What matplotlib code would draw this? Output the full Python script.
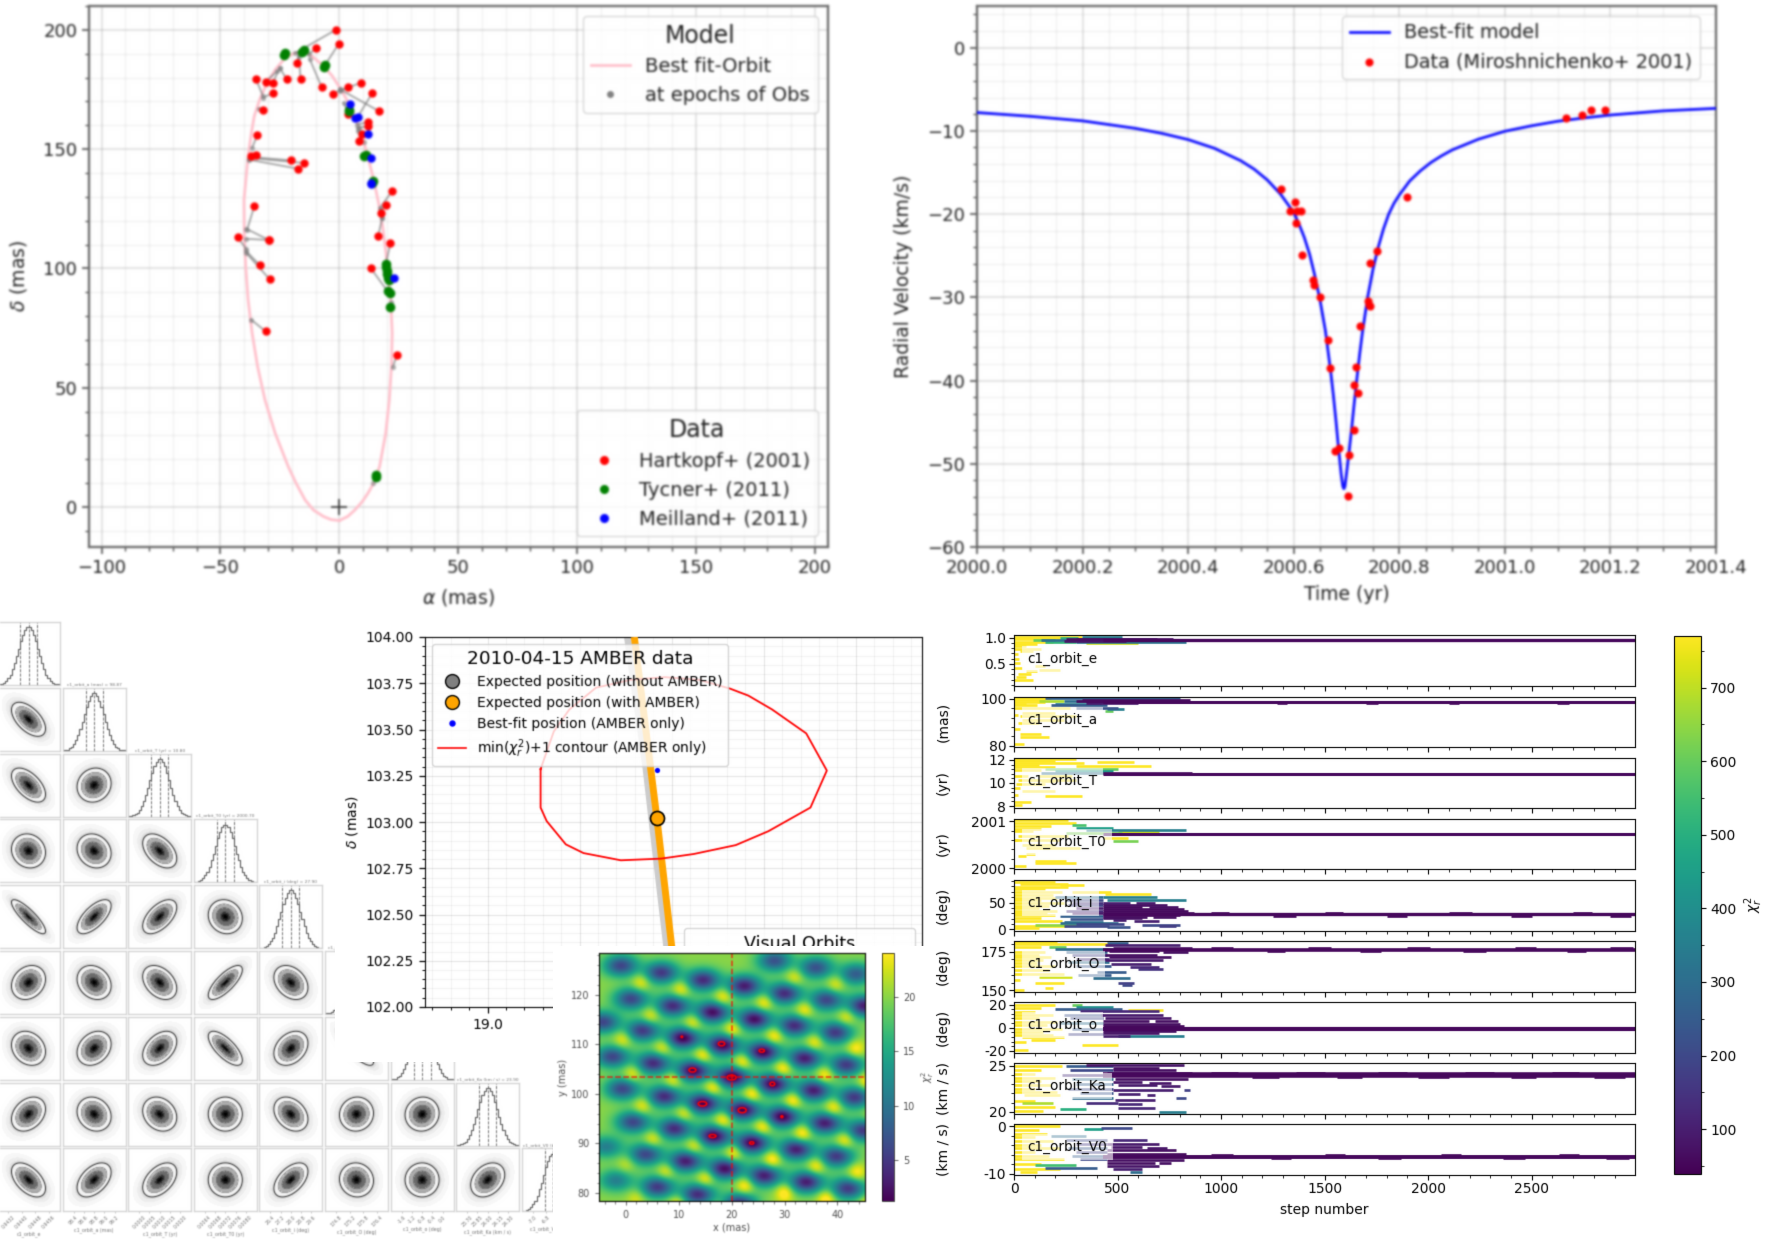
import numpy as np
import matplotlib
matplotlib.use("Agg")
import matplotlib.pyplot as plt
from matplotlib.lines import Line2D
from matplotlib.patches import Rectangle, Ellipse
from matplotlib.ticker import MultipleLocator, AutoMinorLocator, FormatStrFormatter
from matplotlib.cm import ScalarMappable
from matplotlib.colors import Normalize

W, H = 1767, 1242

# ---- projected orbit -------------------------------------------------------
ORBIT_RA = [0, -3.5, -6.7, -10.9, -14.4, -18.2, -21.5, -27, -31.3, -34.4, -36.7, -38.4, -39.4, -40, -40.1,
            -38.8, -38, -37, -35.8, -33.5, -30.4, -26.9, -23.4, -19.5, -15.7, -11.5, -7.3, -3.1, 1.1, 4.6,
            7.4, 10, 12.3, 14.4, 16.5, 18.2, 19.6, 20.6, 21.6, 22.2, 21.9, 21, 19.5, 16.9, 14.4, 12, 9.6,
            6.5, 3.5, 0]
ORBIT_DEC = [-5.7, -5.3, -4, -1.3, 2.9, 9.9, 16.9, 30.9, 44.9, 58.9, 72.9, 86.9, 100.8, 114.8, 128.8,
             142.8, 149.8, 156.8, 163.8, 170.8, 177.8, 183.4, 187.5, 190, 191, 189, 185.4, 180.8, 174.3, 168,
             161.7, 154, 145.6, 137.2, 127.4, 117.6, 106.4, 95.2, 86.9, 72.9, 58.9, 44.9, 30.9, 16.9, 9.9,
             5.7, 2.2, -1.3, -4, -5.7]

HARTKOPF_RA = [-1.5, -0.3, -9.7, -18, -16.3, -22.2, -28, -30.9, -35.1, -28, -32.3, -34.5, -37.3, -35.1, -20.5,
               -15, -17.5, -7.4, -2.7, 3.8, 9.1, 13.9, 16.7, 3.8, 11.9, 12.1, 9.5, 8.4, 22.2, 19.6, 17.4,
               16.3, 21.5, 13.2, -35.8, -42.8, -29.7, -29.7, -33.4, -29.3, -31, 24.3]
HARTKOPF_DEC = [200, 194.1, 192.4, 185.9, 179.4, 179.4, 177.8, 178.3, 179.4, 173.6, 166.6, 155.9, 147, 147.7,
                145.3, 144.2, 141.8, 175.9, 172.9, 175.9, 177.8, 173.6, 165.9, 164.9, 161.3, 159.6, 156.5,
                153.6, 132.4, 126.4, 123.1, 113.6, 110.6, 100.1, 126, 113, 111.9, 111.9, 101.3, 95.4, 73.6, 63.8]
HARTKOPF_MODEL_RA = [-18.5, -6.3, -12.9, -17, -17, -25.1, -25.1, -26.2, -32.1, -32.1, -33.9, -36.7, -38.1, -38.1,
                     -37.7, -37.7, -38.1, -12.5, 0.4, 0.4, 0.4, 7.4, 0.4, 1.8, 7.4, 7.7, 7.7, 8.6, 17, 17.3, 18,
                     18, 19.6, 20.8, -38.8, -39.1, -39.1, -39.1, -39.1, -39.1, -37.1, 22.4]
HARTKOPF_MODEL_DEC = [190.3, 184.8, 189.7, 189.7, 188.5, 184, 184, 182.7, 172.2, 171.5, 167, 150.5, 145.9, 145.9,
                      146.7, 146.3, 145.6, 187.8, 175, 174.3, 174.7, 163, 175, 169.4, 160.3, 158.9, 157.5, 156.8,
                      125.3, 124.6, 121.1, 121.1, 102.2, 89.7, 116.2, 108.1, 116.6, 112.4, 107.1, 106.4, 78.5, 58.5]

TYCNER_RA = [-23.4, -22.8, -15.8, -15, -6.6, -6, 4.2, 4.2, 10.5, 11, 13.7, 14, 19.6, 19.7, 20, 20, 20.4, 20.8,
             20.6, 21.1, 21.4, 15.4, 15.4]
TYCNER_DEC = [189.5, 190.4, 190.6, 191.4, 184.5, 185.1, 165.8, 166.5, 147, 147.6, 135.7, 136.6, 102, 100.5, 99,
              97.5, 96, 95, 90.5, 89.5, 83.8, 12.5, 13.3]
MEILLAND_RA = [4.3, 6.7, 7.7, 12.1, 13.2, 13.2, 13.5, 23]
MEILLAND_DEC = [168.8, 163.1, 163.6, 156.5, 146.4, 135.2, 135.7, 96]
EXTRA_MODEL_RA = [21.7, 21.8, 14.3, 8.2, 10.5]
EXTRA_MODEL_DEC = [86, 85, 9.9, 159, 153]

# ---- radial velocity -------------------------------------------------------
RV_TIME = [2000.0, 2000.1, 2000.2, 2000.3, 2000.35, 2000.4, 2000.45, 2000.5, 2000.525, 2000.55, 2000.575, 2000.6,
           2000.61, 2000.62, 2000.63, 2000.64, 2000.65, 2000.66, 2000.67, 2000.675, 2000.68, 2000.685, 2000.69,
           2000.693, 2000.695, 2000.697, 2000.70, 2000.705, 2000.71, 2000.715, 2000.72, 2000.725, 2000.73, 2000.74,
           2000.75, 2000.76, 2000.77, 2000.78, 2000.79, 2000.80, 2000.82, 2000.84, 2000.86, 2000.88, 2000.90,
           2000.95, 2001.0, 2001.05, 2001.1, 2001.15, 2001.2, 2001.3, 2001.4]
RV_MODEL = [-7.8, -8.25, -8.8, -9.7, -10.3, -11.05, -12.1, -13.6, -14.6, -15.9, -17.6, -19.8,
            -21.2, -22.8, -24.8, -27.4, -30.4, -34, -38.9, -41.7, -44.8, -48.2, -51.3,
            -52.7, -53, -52.7, -51.2, -48.5, -45.6, -42.5, -39.6, -36.8, -34.3, -30,
            -26.7, -24, -21.8, -20, -18.7, -17.7, -16, -14.8, -13.8, -13, -12.3,
            -11, -10.05, -9.4, -8.85, -8.45, -8.1, -7.6, -7.3]
RV_OBS_TIME = [2000.575, 2000.602, 2000.593, 2000.606, 2000.613, 2000.605, 2000.615, 2000.637, 2000.638, 2000.650,
               2000.665, 2000.669, 2000.678, 2000.686, 2000.705, 2000.702, 2000.714, 2000.715, 2000.718, 2000.721,
               2000.725, 2000.740, 2000.743, 2000.744, 2000.745, 2000.758, 2000.814, 2001.116, 2001.146, 2001.164,
               2001.19]
RV_OBS = [-17.0, -18.5, -19.6, -19.6, -19.6, -21.1, -24.9, -27.9, -28.5, -30.0, -35.1, -38.5, -48.5, -48.1, -49.0,
          -53.9, -46.0, -40.5, -38.4, -41.5, -33.5, -30.4, -30.9, -31.1, -25.9, -24.4, -18.0, -8.5, -8.1, -7.5, -7.5]

# ---- AMBER epoch close-up ---------------------------------------------------
CONTOUR_RA = [19.288, 19.288, 19.321, 19.425, 19.521, 19.724, 19.943, 20.120, 20.348, 20.525, 20.754, 20.843,
              20.731, 20.546, 20.417, 20.317, 20.151, 19.964, 19.776, 19.589, 19.444, 19.360, 19.288]
CONTOUR_DEC = [103.286, 103.078, 103.005, 102.879, 102.832, 102.793, 102.802, 102.827, 102.875, 102.950, 103.078,
               103.278, 103.479, 103.608, 103.683, 103.721, 103.768, 103.783, 103.768, 103.726, 103.608, 103.490,
               103.286]
ORBIT_WITH_RA = [19.797, 19.920, 20.001, 20.09]
ORBIT_WITH_DEC = [104.0, 103.018, 102.321, 101.6]
ORBIT_WITHOUT_RA = [19.760, 19.860, 19.922, 19.974, 20.03]
ORBIT_WITHOUT_DEC = [104.0, 103.297, 102.761, 102.321, 101.6]
EXPECTED_RA, EXPECTED_DEC = 19.92, 103.02
BESTFIT_RA, BESTFIT_DEC = 19.92, 103.28

# ---- chi2 map: well centres (x, y) and depth ------------------------------------
WELL_X = [-1.0, 6.6, 14.5, 22.3, 29.9, 37.8, 45.0, 28.0, 35.8, 43.4,
          0.9, 8.8, 16.3, 24.2, 31.8, 39.5,
          -4.4, 3.1, 10.7, 18.2, 25.8, 33.7, 41.6,
          -2.6, 5.1, 12.6, 20.0, 27.7, 35.4, 43.1,
          -0.7, 7.2, 14.5, 22.0, 29.5, 37.5, 44.7,
          1.3, 9.1, 16.5, 23.8, 32.1, 39.7,
          -3.8, 3.7, 11.2, 18.6, 26.1, 34.0, 41.9,
          -1.9, 5.9, 13.5, 21.4]
WELL_Y = [125.9, 124.5, 123.0, 121.8, 120.3, 119.0, 117.8, 126.9, 125.5, 124.2,
          119.2, 117.8, 116.5, 115.1, 113.8, 112.4,
          114.5, 112.8, 111.3, 109.9, 108.5, 107.2, 105.9,
          107.5, 106.2, 104.7, 103.4, 102.0, 100.7, 99.3,
          101.0, 99.5, 98.1, 96.8, 95.4, 94.1, 92.6,
          94.3, 93.0, 91.5, 90.1, 88.8, 87.4,
          89.3, 87.8, 86.4, 84.9, 83.5, 82.2, 80.9,
          82.5, 81.2, 79.7, 77.8]
WELL_DEPTH = [14, 15, 16, 17, 16, 14, 17, 13, 13, 12,
              14, 16, 18, 18, 16, 15,
              14, 15, 19, 19, 19, 17, 15,
              14, 16, 19, 20, 19, 17, 15,
              14, 16, 19, 19, 19, 17, 15,
              14, 16, 19, 19, 17, 15,
              9, 14, 17, 18, 17, 17, 15,
              9, 15, 16, 16]
RIDGE_SHIFT = (3.8, -3.4)
RED_X = [10.6, 18.1, 25.7, 12.6, 20.0, 27.7, 14.5, 22.0, 29.5, 16.4, 23.8]
RED_Y = [111.5, 110.1, 108.7, 104.8, 103.3, 102.0, 98.0, 96.7, 95.4, 91.5, 90.1]
RED_W = [0.3, 1.2, 1.0, 1.3, 1.7, 0.9, 1.6, 1.5, 0.4, 1.3, 0.8]
RED_H = [0.3, 0.8, 0.6, 0.8, 1.0, 0.7, 0.9, 1.0, 0.4, 0.6, 0.5]

# ---- posterior summary: parameters, correlations, tick labels ---------------------
PARAMS = ["c1_orbit_e", "c1_orbit_a (mas)", "c1_orbit_T (yr)", "c1_orbit_T0 (yr)", "c1_orbit_i (deg)",
          "c1_orbit_O (deg)", "c1_orbit_o (deg)", "c1_orbit_Ka (km / s)", "c1_orbit_V0 (km / s)"]
MEDIANS = ["0.94", "98.87", "10.80", "2000.70", "27.90", "175.60", "-0.70", "23.90", "-6.60"]
CORR_ROWS = [[-0.55],
             [-0.55, 0.10],
             [-0.10, -0.15, -0.45],
             [-0.85, 0.65, 0.55, -0.10],
             [0.20, -0.20, -0.35, 0.75, -0.30],
             [-0.20, 0.25, 0.40, -0.70, 0.30, -0.80],
             [0.30, -0.15, -0.20, 0.00, -0.30, 0.05, 0.05],
             [-0.50, 0.45, 0.45, 0.00, 0.50, -0.05, 0.00, 0.30]]
HIST_PROFILE = [0.01, 0.01, 0.02, 0.04, 0.07, 0.12, 0.18, 0.27, 0.38, 0.50, 0.63, 0.76, 0.87, 0.95, 1.0,
                1.0, 0.95, 0.87, 0.76, 0.63, 0.50, 0.38, 0.27, 0.18, 0.12, 0.07, 0.04, 0.02, 0.01, 0.01]
CORNER_TICKS = [["0.9432", "0.9440", "0.9448", "0.9456"], ["98.4", "98.6", "98.8", "99.0", "99.2"],
                ["0.0000", "0.0005", "0.0010", "0.0015", "0.0020"], ["0.0064", "0.0068", "0.0072", "0.0076", "0.0080"],
                ["26.4", "27.2", "28.0", "28.8", "29.6"], ["174.8", "175.2", "175.8", "176.4"],
                ["-1.6", "-1.2", "-0.8", "-0.4", "0.0"], ["23.70", "23.85", "24.00", "24.15", "24.30"],
                ["-7.0", "-6.8", "-6.6", "-6.4"]]

# ---- MCMC walkers: (first step, last step, value, chi2) runs ------------------------
E_RUNS = [(0, 330, 1.02, 770), (0, 220, 1.0, 770), (0, 170, 0.97, 770), (0, 190, 0.92, 770), (0, 110, 0.88, 770),
          (0, 60, 0.84, 770), (0, 130, 0.79, 770), (30, 90, 0.74, 770), (90, 200, 0.955, 600), (130, 370, 0.95, 300),
          (240, 540, 0.945, 80), (330, 520, 1.02, 350), (150, 300, 0.92, 520), (300, 830, 0.92, 320),
          (350, 600, 0.90, 720), (300, 690, 0.975, 80), (250, 770, 0.965, 70), (440, 870, 0.955, 60),
          (220, 310, 0.99, 500), (20, 80, 0.30, 770), (0, 90, 0.20, 770), (60, 110, 0.36, 770), (0, 40, 0.42, 770),
          (0, 30, 0.52, 770), (100, 150, 0.46, 770), (10, 60, 0.25, 770), (0, 25, 0.6, 770), (0, 20, 0.68, 770),
          (120, 220, 0.38, 770)]
A_RUNS = [(0, 180, 100.2, 770), (0, 150, 99.4, 770), (0, 150, 98.7, 770), (0, 60, 97.9, 770), (0, 110, 97.3, 770),
          (150, 800, 100.4, 260), (330, 850, 99.7, 60), (300, 780, 99.3, 60), (350, 700, 98.95, 60),
          (350, 600, 98.2, 90), (120, 240, 99.2, 680), (240, 400, 99.0, 300), (200, 420, 98.0, 350),
          (180, 450, 97.2, 250), (300, 500, 96.3, 230), (450, 530, 95.8, 350), (440, 480, 94.8, 600),
          (0, 270, 96.0, 770), (40, 200, 94.0, 770), (30, 300, 92.5, 770), (40, 240, 91.0, 770), (30, 170, 83.9, 770),
          (0, 50, 80.6, 770), (20, 120, 89.5, 770), (0, 30, 87.0, 770), (0, 20, 93.0, 770), (30, 130, 85.0, 770),
          (1270, 1320, 98.4, 60), (1700, 1760, 98.4, 60), (2100, 2150, 98.4, 60), (2620, 2680, 98.4, 60)]
T_RUNS = [(0, 300, 12.05, 770), (0, 340, 11.75, 770), (0, 200, 11.4, 770), (0, 130, 11.1, 770), (300, 660, 11.45, 770),
          (400, 580, 11.8, 770), (0, 70, 10.6, 770), (150, 500, 11.2, 600), (200, 480, 11.0, 430), (130, 430, 10.9, 300),
          (430, 860, 10.87, 60), (20, 300, 10.3, 770), (40, 200, 9.3, 770), (150, 330, 8.9, 770), (0, 80, 8.35, 770),
          (0, 40, 8.1, 770), (0, 30, 9.6, 770), (0, 20, 9.0, 770), (130, 200, 10.2, 770), (10, 150, 9.9, 770),
          (0, 120, 11.55, 770), (0, 200, 11.92, 770), (120, 280, 10.6, 770)]
T0_RUNS = [(0, 260, 2001.03, 770), (0, 300, 2000.96, 770), (0, 180, 2000.90, 770), (0, 130, 2000.84, 770),
           (0, 90, 2000.80, 770), (300, 480, 2000.85, 450), (350, 830, 2000.81, 350), (500, 700, 2000.78, 720),
           (250, 520, 2000.76, 620), (480, 860, 2000.74, 60), (480, 600, 2000.58, 620), (430, 550, 2000.65, 770),
           (40, 200, 2000.5, 770), (60, 320, 2000.42, 770), (100, 250, 2000.16, 770), (60, 100, 2000.3, 770),
           (0, 60, 2000.05, 770), (100, 300, 2000.1, 770), (20, 60, 2000.25, 770), (0, 20, 2000.6, 770),
           (20, 260, 2000.68, 770), (0, 220, 2000.6, 770), (280, 350, 2000.92, 560)]
I_RUNS = [(0, 200, 88, 770), (30, 260, 84, 770), (220, 340, 82, 770), (0, 260, 79, 770), (0, 150, 75, 770),
          (280, 470, 70, 770), (440, 660, 66, 770), (0, 230, 70, 770), (0, 190, 64, 770), (0, 210, 59, 770),
          (0, 130, 54, 770), (0, 240, 49, 770), (0, 170, 44, 770), (0, 120, 40, 770), (0, 210, 35, 770),
          (0, 160, 31, 770), (0, 200, 26, 770), (0, 130, 21, 770), (0, 230, 16, 770), (0, 250, 6, 770), (0, 120, 2, 770),
          (200, 430, 60, 300), (250, 430, 55, 200), (280, 430, 50, 150), (260, 430, 45, 180), (300, 430, 40, 100),
          (250, 430, 35, 130), (280, 430, 30, 90), (220, 430, 25, 260), (270, 430, 20, 230), (240, 430, 14, 300),
          (430, 690, 61, 350), (450, 830, 54, 350), (430, 560, 50, 100), (590, 680, 49, 90), (430, 740, 45.5, 70),
          (430, 620, 42, 60), (650, 790, 41, 70), (430, 820, 37.5, 60), (430, 840, 34, 60), (430, 870, 31, 60),
          (430, 800, 27, 60), (430, 640, 24, 70), (670, 780, 23.5, 70), (430, 620, 20.5, 80), (480, 540, 17, 100),
          (580, 700, 16.5, 100), (620, 800, 8, 200), (300, 530, 11, 200), (240, 460, 6, 200), (100, 330, 9, 650),
          (220, 500, 12, 300), (450, 560, 5, 230), (700, 780, 6, 170),
          (950, 1040, 30.6, 55), (1250, 1360, 25.4, 55), (1500, 1590, 30.6, 55), (1800, 1900, 25.4, 55),
          (2100, 2210, 30.6, 55), (2400, 2500, 25.4, 55), (2700, 2790, 30.6, 55), (2880, 2980, 25.4, 55)]
O_RUNS = [(0, 210, 181, 770), (0, 480, 179.6, 770), (0, 130, 178, 770), (170, 250, 177.8, 600), (450, 550, 180.8, 250),
          (200, 480, 176.7, 300), (0, 150, 175, 770), (0, 120, 173, 770), (0, 180, 171.5, 770), (0, 140, 169.5, 770),
          (0, 110, 167.5, 770), (0, 200, 165.5, 770), (0, 170, 163, 770), (0, 240, 160.5, 770), (120, 280, 158.5, 720),
          (100, 240, 155, 770), (0, 50, 150.3, 770), (150, 190, 151.8, 770), (0, 30, 157, 770),
          (250, 450, 175, 260), (280, 450, 173, 180), (300, 460, 170.5, 130), (260, 460, 168, 300), (300, 470, 165.5, 240),
          (310, 470, 160, 250), (400, 540, 162, 250), (380, 560, 158, 300), (440, 800, 179, 100), (480, 860, 177.5, 70),
          (460, 700, 175.3, 70), (720, 840, 174.5, 70), (440, 690, 173, 70), (460, 760, 171.3, 70), (440, 720, 169.5, 90),
          (470, 660, 167.3, 100), (560, 700, 165, 120), (600, 720, 163.5, 150), (500, 580, 155, 180), (520, 570, 153.5, 200),
          (950, 1060, 177.4, 55), (1220, 1310, 175.2, 55), (1420, 1530, 177.4, 55), (1670, 1770, 175.2, 55),
          (1900, 2010, 177.4, 55), (2170, 2280, 175.2, 55), (2420, 2520, 177.4, 55), (2670, 2760, 175.2, 55),
          (2880, 2990, 177.4, 55)]
OM_RUNS = [(0, 200, 20, 770), (0, 130, 17, 770), (0, 100, 14, 770), (0, 190, 11, 770), (0, 120, 8, 770),
           (0, 210, 5, 770), (0, 160, 2.5, 770), (0, 230, -1, 770), (0, 140, -3.5, 770), (0, 190, -6, 770),
           (40, 240, -8, 770), (0, 60, -12, 770), (80, 200, -11, 770), (330, 500, -15, 770), (0, 70, -19, 770),
           (280, 330, 20, 600), (300, 480, 18, 400), (200, 520, 16, 250), (320, 700, 14.5, 120), (550, 720, 15, 770),
           (240, 430, 11, 220), (270, 430, 8, 200), (220, 430, 4, 300), (280, 430, -1, 240), (260, 430, -5, 180),
           (420, 720, 11, 90), (440, 760, 8.5, 80), (430, 650, 6, 70), (680, 790, 5.5, 70), (430, 800, 3.5, 70),
           (430, 820, 1.5, 60), (430, 880, -0.7, 60), (430, 780, -2.8, 70), (430, 700, -4.8, 80), (500, 820, -7, 350),
           (430, 560, -7, 100)]
KA_RUNS = [(0, 230, 25, 770), (0, 130, 24.5, 770), (0, 100, 24.1, 770), (0, 200, 23.7, 770), (0, 130, 23.3, 770),
           (0, 180, 22.9, 770), (0, 100, 22.5, 770), (0, 210, 22.1, 770), (50, 220, 21.8, 770), (0, 100, 21.2, 770),
           (40, 190, 20.9, 680), (0, 200, 20.5, 770), (0, 140, 20.1, 770), (220, 350, 20.3, 500),
           (250, 480, 25, 250), (270, 480, 24.5, 200), (230, 480, 24.0, 130), (280, 480, 23.5, 300), (300, 480, 23, 260),
           (260, 480, 22.5, 200), (320, 480, 22, 230), (280, 480, 21.5, 300), (350, 500, 21, 130),
           (350, 820, 25.1, 80), (480, 700, 24.7, 70), (480, 780, 24.5, 70), (450, 860, 24.2, 70), (490, 840, 23.6, 70),
           (480, 620, 23.25, 80), (650, 760, 23.15, 80), (500, 690, 22.85, 90), (710, 800, 22.75, 90),
           (480, 770, 22.35, 100), (500, 610, 21.9, 100), (640, 680, 21.8, 100), (490, 680, 21.3, 100),
           (500, 620, 20.8, 120), (500, 680, 20.4, 120), (700, 830, 20.0, 350), (780, 830, 21.5, 200), (820, 850, 22.4, 180),
           (950, 1080, 24.22, 55), (1150, 1280, 23.72, 55), (1360, 1500, 24.22, 55), (1560, 1680, 23.72, 55),
           (1760, 1900, 24.22, 55), (1950, 2100, 23.72, 55), (2180, 2320, 24.22, 55), (2400, 2520, 23.72, 55),
           (2600, 2730, 24.22, 55), (2800, 2950, 23.72, 55)]
V0_RUNS = [(0, 220, 0, 770), (0, 120, -0.8, 770), (0, 160, -1.6, 770), (0, 100, -2.3, 770), (0, 190, -3.1, 770),
           (0, 130, -3.9, 770), (0, 220, -4.7, 770), (0, 100, -5.5, 770), (0, 170, -6.2, 770), (0, 240, -7, 770),
           (0, 130, -8, 770), (0, 220, -9, 770), (30, 110, -9.7, 770), (340, 430, -0.5, 450), (420, 570, -0.3, 200),
           (180, 350, -2, 300), (250, 450, -3, 200), (300, 450, -3.8, 160), (260, 450, -4.6, 240), (300, 450, -5.4, 180),
           (280, 450, -6.2, 260), (320, 450, -7, 200), (100, 300, -8.1, 550), (150, 400, -8.9, 250),
           (480, 640, -3, 120), (450, 700, -3.7, 90), (470, 620, -4.3, 80), (640, 740, -4.5, 80), (450, 780, -5.1, 70),
           (450, 830, -5.8, 60), (450, 820, -7.1, 70), (450, 680, -7.7, 70), (700, 760, -7.8, 70), (450, 700, -8.4, 80),
           (480, 620, -9, 100), (560, 620, -9.7, 300),
           (950, 1060, -6.15, 55), (1240, 1340, -6.8, 55), (1500, 1600, -6.15, 55), (1760, 1870, -6.8, 55),
           (2060, 2160, -6.15, 55), (2360, 2470, -6.8, 55), (2630, 2730, -6.15, 55), (2860, 2970, -6.8, 55)]
TRACE_NAMES = ["c1_orbit_e", "c1_orbit_a", "c1_orbit_T", "c1_orbit_T0", "c1_orbit_i", "c1_orbit_O", "c1_orbit_o",
               "c1_orbit_Ka", "c1_orbit_V0"]
TRACE_UNITS = ["", "(mas)", "(yr)", "(yr)", "(deg)", "(deg)", "(deg)", "(km / s)", "(km / s)"]
TRACE_RUNS = [E_RUNS, A_RUNS, T_RUNS, T0_RUNS, I_RUNS, O_RUNS, OM_RUNS, KA_RUNS, V0_RUNS]
TRACE_FINAL = [0.95, 98.8, 10.82, 2000.725, 28, 176.3, -0.7, 23.97, -6.47]
TRACE_LIMITS = [(0.076, 1.04), (79.3, 101), (7.8, 12.2), (1999.97, 2001.06), (-2, 92.5), (149.3, 182), (-21.5, 22.4),
                (19.8, 25.3), (-10.25, 0.5)]
TRACE_TICKS = [[0.5, 1.0], [80, 100], [8, 10, 12], [2000, 2001], [0, 50], [150, 175], [-20, 0, 20], [20, 25], [-10, 0]]
TRACE_TICK_FORMATS = ["%.1f", "%g", "%g", "%g", "%g", "%g", "%g", "%g", "%g"]
TRACE_BAND_LW = [2.4, 2.2, 2.2, 2.2, 2.4, 2.6, 3.0, 4.0, 2.8]
CHI2_RANGE = (39, 770)

fig = plt.figure(figsize=(W / 100, H / 100), dpi=100, facecolor="white")


def gaussian_blur(sigma):
    """Post-processing filter that softens everything an axes has drawn."""
    radius = int(3 * sigma) + 1
    kernel = np.exp(-0.5 * (np.arange(-radius, radius + 1) / sigma) ** 2)
    kernel /= kernel.sum()

    def apply(image, dpi):
        pad = radius + 1
        padded = np.pad(image, ((pad, pad), (pad, pad), (0, 0)))
        alpha = padded[..., 3:4]
        layers = np.concatenate([padded[..., :3] * alpha, alpha], axis=2)
        for axis in (0, 1):
            layers = np.apply_along_axis(lambda m: np.convolve(m, kernel, mode="same"), axis, layers)
        out_alpha = layers[..., 3:4]
        rgb = layers[..., :3] / np.maximum(out_alpha, 1e-4)
        return np.clip(np.concatenate([rgb, out_alpha], axis=2), 0, 1), -pad, -pad

    return apply


def axes_px(x0, y0, x1, y1, z):
    return fig.add_axes([x0 / W, 1 - y1 / H, (x1 - x0) / W, (y1 - y0) / H], zorder=z)


def white_block(x0, y0, x1, y1, z):
    fig.add_artist(Rectangle((x0 / W, 1 - y1 / H), (x1 - x0) / W, (y1 - y0) / H, transform=fig.transFigure,
                             facecolor="white", edgecolor="none", zorder=z))


def faint_grid(ax, major=(1.4, 0.22), minor=(0.9, 0.12)):
    ax.grid(True, which="major", color="0.5", lw=major[0], alpha=major[1])
    ax.grid(True, which="minor", color="0.5", lw=minor[0], alpha=minor[1])
    ax.set_axisbelow(True)


def soft_frame(ax):
    for s in ax.spines.values():
        s.set_color("0.4")
        s.set_linewidth(1.6)
    ax.tick_params(which="major", labelsize=13, length=5, width=1.1, color="0.25", labelcolor="0.12")
    ax.tick_params(which="minor", length=3, width=0.9, color="0.25")


# ---- orbit on the sky -------------------------------------------------------
ax = axes_px(89, 6, 828, 547, 10)
ax.plot(ORBIT_RA, ORBIT_DEC, color="pink", lw=2.0, zorder=2)
for x, y, mx, my in zip(HARTKOPF_RA, HARTKOPF_DEC, HARTKOPF_MODEL_RA, HARTKOPF_MODEL_DEC):
    ax.plot([x, mx], [y, my], color="0.45", lw=1.2, alpha=0.7, zorder=3)
ax.scatter(HARTKOPF_MODEL_RA, HARTKOPF_MODEL_DEC, s=14, color="gray", alpha=0.6, lw=0, zorder=3)
ax.scatter(EXTRA_MODEL_RA, EXTRA_MODEL_DEC, s=14, color="gray", alpha=0.6, lw=0, zorder=3)
ax.scatter(HARTKOPF_RA, HARTKOPF_DEC, s=36, color="red", lw=0, zorder=4)
ax.scatter(TYCNER_RA, TYCNER_DEC, s=48, color="green", lw=0, zorder=5)
ax.scatter(MEILLAND_RA, MEILLAND_DEC, s=36, color="blue", lw=0, zorder=6)
ax.plot([0], [0], marker="+", ms=11, mew=1.2, color="0.2", ls="none", zorder=6)
ax.set_xlim(-105.3, 205.5)
ax.set_ylim(-16.8, 210)
ax.xaxis.set_major_locator(MultipleLocator(50))
ax.xaxis.set_minor_locator(MultipleLocator(10))
ax.yaxis.set_major_locator(MultipleLocator(50))
ax.yaxis.set_minor_locator(MultipleLocator(10))
faint_grid(ax)
soft_frame(ax)
ax.set_xlabel(r"$\alpha$ (mas)", fontsize=13.5, color="0.12", labelpad=7)
ax.set_ylabel(r"$\delta$ (mas)", fontsize=13.5, color="0.12", labelpad=10)
model_leg = ax.legend(handles=[Line2D([], [], color="pink", lw=2, label="Best fit-Orbit"),
                               Line2D([], [], color="gray", marker="o", ms=4, ls="none", label="at epochs of Obs")],
                      title="Model", title_fontproperties={"size": 17}, fontsize=14.0, loc="upper right",
                      bbox_to_anchor=(0.986, 0.982), borderaxespad=0, labelspacing=0.5, labelcolor="0.12")
model_leg.get_title().set_color("0.12")
ax.add_artist(model_leg)
data_leg = ax.legend(handles=[Line2D([], [], color="red", marker="o", ms=5.5, ls="none", label="Hartkopf+ (2001)"),
                              Line2D([], [], color="green", marker="o", ms=5.5, ls="none", label="Tycner+ (2011)"),
                              Line2D([], [], color="blue", marker="o", ms=5.5, ls="none", label="Meilland+ (2011)")],
                     title="Data", title_fontproperties={"size": 17}, fontsize=14.0, loc="lower right",
                     bbox_to_anchor=(0.986, 0.02), borderaxespad=0, labelspacing=0.5, labelcolor="0.12")
data_leg.get_title().set_color("0.12")
ax.set_agg_filter(gaussian_blur(1.1))

# ---- radial velocity curve --------------------------------------------------
ax = axes_px(977, 6, 1716, 547, 10)
ax.plot(RV_TIME, RV_MODEL, color="blue", lw=2.0, alpha=0.95, label="Best-fit model", zorder=3)
ax.scatter(RV_OBS_TIME, RV_OBS, s=34, color="red", lw=0, label="Data (Miroshnichenko+ 2001)", zorder=4)
ax.set_xlim(2000.0, 2001.4)
ax.set_ylim(-60, 5)
ax.xaxis.set_major_locator(MultipleLocator(0.2))
ax.xaxis.set_minor_locator(MultipleLocator(0.05))
ax.yaxis.set_major_locator(MultipleLocator(10))
ax.yaxis.set_minor_locator(MultipleLocator(2))
ax.xaxis.set_major_formatter(FormatStrFormatter("%.1f"))
faint_grid(ax)
soft_frame(ax)
ax.set_xlabel("Time (yr)", fontsize=13.5, color="0.12", labelpad=6)
ax.set_ylabel("Radial Velocity (km/s)", fontsize=13.5, color="0.12", labelpad=10)
ax.legend(fontsize=13.85, loc="upper right", bbox_to_anchor=(0.978, 0.982), borderaxespad=0, labelspacing=0.5,
          labelcolor="0.12")
ax.set_agg_filter(gaussian_blur(1.1))

# ---- posterior triangle ----------------------------------------------------
COL_X0, COL_STEP, ROW_Y0, ROW_STEP, CELL = -3, 65.6, 622, 65.8, 63
AX_SPAN = 3.7
grid_axis = np.linspace(-AX_SPAN, AX_SPAN, 121)
gx, gy = np.meshgrid(grid_axis, grid_axis)
bin_edges = np.linspace(-AX_SPAN, AX_SPAN, len(HIST_PROFILE) + 1)
blur_corner = gaussian_blur(0.7)

for row in range(9):
    for col in range(row + 1):
        x0 = COL_X0 + col * COL_STEP
        y0 = ROW_Y0 + row * ROW_STEP
        cax = axes_px(x0, y0, x0 + CELL, y0 + CELL, 1)
        if row == col:
            cax.stairs(HIST_PROFILE, bin_edges, color="0.35", lw=0.8)
            for q in (-1, 0, 1):
                cax.axvline(q, color="0.35", lw=0.6, ls="--")
            cax.set_ylim(0, 1.09)
            if col > 0:
                cax.set_title(f"{PARAMS[col]} = {MEDIANS[col]}", fontsize=3.2, color="0.45", pad=1.5)
        else:
            rho = CORR_ROWS[row - 1][col]
            r = np.sqrt((gx ** 2 - 2 * rho * gx * gy + gy ** 2) / (1 - rho ** 2))
            cax.contourf(gx, gy, r, levels=[2.0, 2.35, 2.7, 3.1], colors=["0.88", "0.93", "0.97"])
            cax.contourf(gx, gy, r, levels=[0, 0.25, 0.42, 0.6, 1.05, 1.5, 2.0],
                         colors=["0.0", "0.08", "0.2", "0.42", "0.68", "0.95"])
            cax.contour(gx, gy, r, levels=[0.6, 1.05, 1.5], colors="0.25", linewidths=0.35)
            cax.contour(gx, gy, r, levels=[2.0], colors="0.15", linewidths=0.7)
            cax.set_ylim(-AX_SPAN, AX_SPAN)
        cax.set_xlim(-AX_SPAN, AX_SPAN)
        for s in cax.spines.values():
            s.set_color("0.82")
            s.set_linewidth(0.9)
        cax.set_yticks([])
        if row == 8:
            labels = CORNER_TICKS[col]
            cax.set_xticks(np.linspace(-2.4, 2.4, len(labels)), labels=labels, rotation=45, fontsize=3.4, color="0.45")
            cax.tick_params(axis="x", length=1.5, width=0.4, color="0.6", pad=1)
            cax.set_xlabel(PARAMS[col], fontsize=3.4, color="0.45", labelpad=1)
        else:
            cax.set_xticks([])
        cax.set_agg_filter(blur_corner)

white_block(335, 615, 938, 1062, 2)

# ---- close-up of the orbit at the AMBER epoch -----------------------------------
ax = axes_px(425, 637, 922, 1007, 3)
ax.plot(ORBIT_WITHOUT_RA, ORBIT_WITHOUT_DEC, color="0.8", lw=5, solid_capstyle="butt", zorder=2)
ax.plot(ORBIT_WITH_RA, ORBIT_WITH_DEC, color="orange", lw=5, solid_capstyle="butt", zorder=3)
ax.plot(CONTOUR_RA, CONTOUR_DEC, color="red", lw=1.3, zorder=4)
ax.scatter([EXPECTED_RA], [EXPECTED_DEC], s=100, color="gray", edgecolor="black", lw=1.1, zorder=5)
ax.scatter([EXPECTED_RA], [EXPECTED_DEC], s=100, color="orange", edgecolor="black", lw=1.1, zorder=6)
ax.scatter([BESTFIT_RA], [BESTFIT_DEC], s=14, color="blue", lw=0, zorder=7)
ax.set_xlim(18.66, 21.36)
ax.set_ylim(102, 104)
ax.xaxis.set_major_locator(MultipleLocator(0.5))
ax.xaxis.set_minor_locator(MultipleLocator(0.1))
ax.yaxis.set_major_locator(MultipleLocator(0.25))
ax.yaxis.set_minor_locator(MultipleLocator(0.05))
ax.xaxis.set_major_formatter(FormatStrFormatter("%.1f"))
ax.yaxis.set_major_formatter(FormatStrFormatter("%.2f"))
ax.tick_params(which="major", labelsize=10, length=4.5, width=0.9)
ax.tick_params(which="minor", length=2.5, width=0.7)
faint_grid(ax, major=(0.8, 0.2), minor=(0.6, 0.12))
ax.set_ylabel(r"$\delta$ (mas)", fontsize=10, labelpad=4)
amber_leg = ax.legend(handles=[Line2D([], [], color="gray", mec="black", marker="o", ms=10, ls="none",
                                      label="Expected position (without AMBER)"),
                               Line2D([], [], color="orange", mec="black", marker="o", ms=10, ls="none",
                                      label="Expected position (with AMBER)"),
                               Line2D([], [], color="blue", marker="o", ms=3.6, ls="none",
                                      label="Best-fit position (AMBER only)"),
                               Line2D([], [], color="red", lw=1.2, label=r"min$(\chi_r^2)$+1 contour (AMBER only)")],
                      title="2010-04-15 AMBER data", title_fontproperties={"size": 13.3}, fontsize=10,
                      loc="upper left", bbox_to_anchor=(0.015, 0.98), borderaxespad=0, labelspacing=0.5)
ax.add_artist(amber_leg)
ax.legend(handles=[Line2D([], [], color="none", label=" ")], title="Visual Orbits",
          title_fontproperties={"size": 12.6}, fontsize=12, loc="upper left",
          bbox_to_anchor=((684 - 425) / 497, (1007 - 928) / 370 - 0.2, (915 - 684) / 497, 0.2), mode="expand",
          borderaxespad=0)
ax.set_agg_filter(gaussian_blur(0.6))

white_block(553, 946, 937, 1242, 4)

# ---- chi2 map ----------------------------------------------------------------
ax = axes_px(598.7, 953, 865, 1201, 5)
xs = np.linspace(-5.1, 45.2, 420)
ys = np.linspace(78.4, 128.4, 420)
mx, my = np.meshgrid(xs, ys)
chi2_map = np.full(mx.shape, 20.0)
for wx, wy, depth in zip(WELL_X, WELL_Y, WELL_DEPTH):
    chi2_map -= depth * np.exp(-0.5 * (((mx - wx) / 2.2) ** 2 + ((my - wy) / 1.5) ** 2))
    chi2_map += 0.34 * depth * np.exp(-0.5 * (((mx - wx - RIDGE_SHIFT[0]) / 1.2) ** 2 + ((my - wy - RIDGE_SHIFT[1]) / 1.4) ** 2))
chi2_im = ax.imshow(chi2_map, origin="lower", extent=(-5.1, 45.2, 78.4, 128.4), aspect="auto", cmap="viridis",
                    vmin=1.25, vmax=24)
for ex, ey, ew, eh in zip(RED_X, RED_Y, RED_W, RED_H):
    ax.add_patch(Ellipse((ex, ey), ew, eh, facecolor="red" if ew < 0.5 else "none", edgecolor="red", lw=1.1))
ax.axvline(20, color="red", lw=1.1, ls="--", alpha=0.75)
ax.axhline(103.3, color="red", lw=1.1, ls="--", alpha=0.75)
ax.set_xticks([0, 10, 20, 30, 40])
ax.set_yticks([80, 90, 100, 110, 120])
ax.xaxis.set_minor_locator(MultipleLocator(2))
ax.yaxis.set_minor_locator(MultipleLocator(2))
ax.tick_params(which="major", labelsize=7, length=3, width=0.6, color="0.3", labelcolor="0.3")
ax.tick_params(which="minor", length=1.8, width=0.5, color="0.3")
ax.set_xlabel("x (mas)", fontsize=7, color="0.3", labelpad=2)
ax.set_ylabel("y (mas)", fontsize=7, color="0.3", labelpad=2)
ax.set_agg_filter(gaussian_blur(0.7))
cbar_ax = axes_px(881.5, 953, 894, 1201, 5)
cb = fig.colorbar(chi2_im, cax=cbar_ax)
cb.set_ticks([5, 10, 15, 20])
cb.ax.tick_params(labelsize=7, length=3, width=0.6, color="0.3", labelcolor="0.3")
cb.set_label(r"$\chi_r^2$", fontsize=7, color="0.3", labelpad=3)
cb.outline.set_linewidth(0.5)
cbar_ax.set_agg_filter(gaussian_blur(0.6))

# ---- walker traces -----------------------------------------------------------
norm = Normalize(*CHI2_RANGE)
TRACE_TOP, TRACE_STEP, TRACE_H = 635.5, 61.05, 50.8
trace_axes = []
for i, runs in enumerate(TRACE_RUNS):
    top = TRACE_TOP + i * TRACE_STEP
    tax = axes_px(1014, top, 1635, top + TRACE_H, 6)
    ordered = sorted(runs, key=lambda run: -run[3])
    starts, stops, vals, chis = zip(*ordered)
    segs = tax.hlines(vals, starts, stops, lw=1.9)
    segs.set_array(np.array(chis, dtype=float))
    segs.set_cmap("viridis")
    segs.set_norm(norm)
    tax.hlines([TRACE_FINAL[i]], [430], [3000], colors=[plt.get_cmap("viridis")(norm(55))], lw=TRACE_BAND_LW[i])
    tax.set_xlim(0, 2999)
    tax.set_ylim(*TRACE_LIMITS[i])
    tax.set_yticks(TRACE_TICKS[i])
    tax.xaxis.set_major_locator(MultipleLocator(500))
    tax.xaxis.set_minor_locator(MultipleLocator(100))
    tax.yaxis.set_minor_locator(AutoMinorLocator(5))
    tax.tick_params(which="major", labelsize=10, length=3.5, width=0.8, pad=2)
    tax.tick_params(which="minor", length=2, width=0.6)
    tax.yaxis.set_major_formatter(FormatStrFormatter(TRACE_TICK_FORMATS[i]))
    tax.text(64, 0.54, TRACE_NAMES[i], transform=tax.get_xaxis_transform(), fontsize=9.8, va="center", ha="left",
             bbox=dict(boxstyle="square,pad=0.42", facecolor="white", edgecolor="none", alpha=0.62))
    if i < 8:
        tax.tick_params(labelbottom=False)
    if TRACE_UNITS[i]:
        tax.set_ylabel(TRACE_UNITS[i], fontsize=10)
        tax.yaxis.set_label_coords((950 - 1014) / 621, 0.5)
    tax.set_agg_filter(gaussian_blur(0.45))
    trace_axes.append(tax)
trace_axes[-1].set_xlabel("step number", fontsize=10, labelpad=5)

cax = axes_px(1674, 636, 1700.5, 1174, 6)
cb2 = fig.colorbar(ScalarMappable(norm=norm, cmap="viridis"), cax=cax)
cb2.set_ticks([100, 200, 300, 400, 500, 600, 700])
cb2.ax.yaxis.set_minor_locator(MultipleLocator(50))
cb2.ax.tick_params(which="major", labelsize=10, length=3.5, width=0.8)
cb2.ax.tick_params(which="minor", length=2, width=0.6)
cb2.set_label(r"$\chi_r^2$", fontsize=10, labelpad=4)
cax.set_agg_filter(gaussian_blur(0.45))

fig.savefig("out.png", dpi=100)
